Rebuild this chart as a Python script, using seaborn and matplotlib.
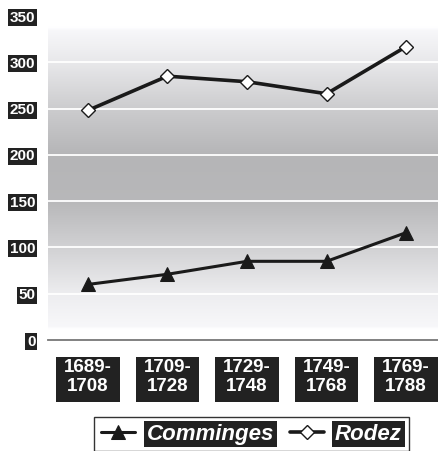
import numpy as np
import pandas as pd
import matplotlib
matplotlib.use("Agg")
import matplotlib.pyplot as plt
import seaborn as sns
from matplotlib.patches import Rectangle
from matplotlib.transforms import blended_transform_factory

periods = ["1689-\n1708", "1709-\n1728", "1729-\n1748", "1749-\n1768", "1769-\n1788"]
comminges = [60, 71, 85, 85, 116]
rodez = [248, 285, 279, 266, 317]
y_ticks = [0, 50, 100, 150, 200, 250, 300, 350]

sns.set_style("white")
plt.rcParams["font.family"] = ["Liberation Sans", "DejaVu Sans"]

W, H = 439, 451
fig = plt.figure(figsize=(W / 100, H / 100), dpi=100)
ax = fig.add_axes([48 / W, 111 / H, 398 / W, 324 / H])

pos = list(range(len(periods)))
df_c = pd.DataFrame({"x": pos, "v": comminges})
df_r = pd.DataFrame({"x": pos, "v": rodez})

# background gradient
yy = np.linspace(0, 350, 700)
kp_v = [0, 12, 14, 50, 100, 150, 200, 250, 300, 335, 338, 350]
kp_c = [1.0, 1.0, 0.97, 0.93, 0.82, 0.72, 0.71, 0.80, 0.91, 0.97, 1.0, 1.0]
g = np.interp(yy, kp_v, kp_c)
img = np.stack([g, g, g * 1.01], axis=-1).clip(0, 1)[:, None, :].repeat(2, axis=1)
ax.imshow(img, extent=[-0.5, 4.5, 0, 350], origin="lower", aspect="auto", zorder=0,
          interpolation="bilinear")

sns.lineplot(data=df_c, x="x", y="v", ax=ax, color="#1a1a1a", linewidth=2.2,
             marker="^", markersize=10, markerfacecolor="#1a1a1a",
             markeredgecolor="#1a1a1a", label="Comminges", zorder=3)
sns.lineplot(data=df_r, x="x", y="v", ax=ax, color="#1a1a1a", linewidth=2.6,
             marker="D", markersize=7, markerfacecolor="white",
             markeredgecolor="#1a1a1a", markeredgewidth=1.0, label="Rodez", zorder=3)

ax.set_xlim(-0.5, 4.5)
ax.set_ylim(0, 350)
ax.set_xlabel("")
ax.set_ylabel("")

for s in ["top", "right", "left"]:
    ax.spines[s].set_visible(False)
ax.spines["bottom"].set_color("#777777")
ax.spines["bottom"].set_linewidth(1.3)

ax.set_yticks(y_ticks)
ax.set_yticklabels([str(t) for t in y_ticks], fontsize=11, fontweight="bold", color="white")
ax.tick_params(axis="y", length=0, pad=9)
for lab in ax.get_yticklabels():
    lab.set_bbox(dict(facecolor="#222222", edgecolor="none", boxstyle="square,pad=0.1"))

ax.set_xticks(np.arange(-0.5, len(periods)), labels=[""] * (len(periods) + 1))
ax.set_xticks(pos, labels=periods, minor=True)
ax.tick_params(axis="x", which="major", direction="in", length=5, width=1.2, color="#777777")
ax.tick_params(axis="x", which="minor", length=0, pad=14, labelsize=13.5, labelcolor="white")
for lab in ax.get_xticklabels(minor=True):
    lab.set_fontweight("bold")
    lab.set_linespacing(1.1)

ax.grid(axis="y", color="white", linewidth=1.3)
ax.grid(axis="x", visible=False)
ax.set_axisbelow("line")

tr = blended_transform_factory(ax.transData, fig.transFigure)
for i in pos:
    ax.add_patch(Rectangle((i - 0.4, (H - 402) / H), 0.8, 45 / H, transform=tr,
                           facecolor="#222222", edgecolor="none", clip_on=False, zorder=0.2))

handles, labels = ax.get_legend_handles_labels()
leg = ax.legend(handles, labels, loc="upper center", ncol=2,
                bbox_to_anchor=(251.5 / W, 34 / H), bbox_transform=fig.transFigure,
                borderaxespad=0,
                frameon=True, fancybox=False, framealpha=1, edgecolor="#333333",
                prop=dict(size=16, weight="bold", style="italic"),
                handlelength=1.55, handletextpad=0.5, columnspacing=0.7, borderpad=0.3)
leg.get_frame().set_linewidth(1.0)
for t in leg.get_texts():
    t.set_color("white")
    t.set_bbox(dict(facecolor="#222222", edgecolor="none", boxstyle="square,pad=0.12"))

fig.savefig("out.png", dpi=100)
